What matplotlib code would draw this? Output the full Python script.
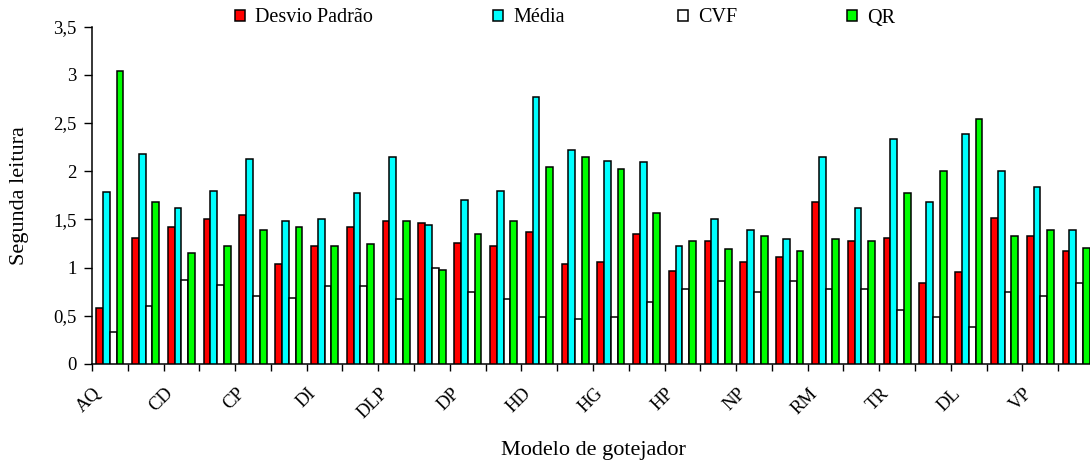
import matplotlib
matplotlib.use("Agg")
import matplotlib.pyplot as plt
import numpy as np
from matplotlib.transforms import ScaledTranslation

plt.rcParams['font.family'] = ['Liberation Serif', 'DejaVu Serif']

# 28 groups; only every other one carries a label in the reference
tick_labels = ["AQ", "CD", "CP", "DI", "DLP", "DP", "HD", "HG",
               "HP", "NP", "RM", "TR", "DL", "VP"]
n_groups = 28

desvio = [0.58, 1.31, 1.42, 1.50, 1.55, 1.04, 1.22, 1.42, 1.48, 1.46,
          1.26, 1.22, 1.37, 1.04, 1.06, 1.35, 0.97, 1.28, 1.06, 1.11,
          1.68, 1.28, 1.31, 0.84, 0.95, 1.51, 1.33, 1.17]
media = [1.78, 2.18, 1.62, 1.80, 2.13, 1.48, 1.50, 1.77, 2.15, 1.44,
         1.70, 1.80, 2.77, 2.22, 2.11, 2.10, 1.22, 1.50, 1.39, 1.30,
         2.15, 1.62, 2.33, 1.68, 2.39, 2.00, 1.84, 1.39]
cvf = [0.33, 0.60, 0.87, 0.82, 0.71, 0.69, 0.81, 0.81, 0.67, 1.00,
       0.75, 0.67, 0.49, 0.47, 0.49, 0.64, 0.78, 0.86, 0.75, 0.86,
       0.78, 0.78, 0.56, 0.49, 0.38, 0.75, 0.71, 0.84]
qr = [3.04, 1.68, 1.15, 1.22, 1.39, 1.42, 1.22, 1.24, 1.48, 0.98,
      1.35, 1.48, 2.04, 2.15, 2.02, 1.57, 1.28, 1.19, 1.33, 1.17,
      1.30, 1.28, 1.77, 2.00, 2.54, 1.33, 1.39, 1.20]

series_names = ["Desvio Padrão", "Média", "CVF", "QR"]
series_colors = ["#FF0000", "#00FFFF", "#FFFFFF", "#00FF00"]
series_values = [desvio, media, cvf, qr]

W, H = 1090, 463
fig = plt.figure(figsize=(W / 100, H / 100), dpi=100)
ax_left, ax_right, ax_top, ax_bottom = 92, 1094, 26.7, 364
ax = fig.add_axes([ax_left / W, 1 - ax_bottom / H,
                   (ax_right - ax_left) / W, (ax_bottom - ax_top) / H])

x = np.arange(n_groups)
bw = 0.19
handles = []
for i, (vals, col, name) in enumerate(zip(series_values, series_colors, series_names)):
    b = ax.bar(x + (i - 1.5) * bw, vals, width=bw, color=col,
               edgecolor="black", linewidth=1.1, label=name, zorder=3)
    handles.append(b)

ax.set_xlim(-0.5, n_groups - 0.5)
ax.set_ylim(0, 3.5)
yt = np.arange(0, 3.51, 0.5)
ax.set_yticks(yt)
ax.set_yticklabels([("%g" % v).replace(".", ",") for v in yt], fontsize=13.5)
ax.tick_params(axis="y", direction="out", length=6, width=1, pad=5)

ax.set_xticks(np.arange(0, n_groups, 2))
ax.set_xticklabels(tick_labels, fontsize=13.5)
ax.set_xticks(np.arange(-0.5, n_groups, 1), minor=True)
ax.tick_params(axis="x", which="major", length=0, pad=15)
ax.tick_params(axis="x", which="minor", direction="out", length=5, width=1)
off = ScaledTranslation(-17 / 100, 0, fig.dpi_scale_trans)
for lbl in ax.get_xticklabels():
    lbl.set_rotation(45)
    lbl.set_ha("right")
    lbl.set_va("top")
    lbl.set_rotation_mode("anchor")
    lbl.set_transform(lbl.get_transform() + off)

for s in ["top", "right"]:
    ax.spines[s].set_visible(False)
for s in ["left", "bottom"]:
    ax.spines[s].set_linewidth(1.1)

ax.set_xlabel("Modelo de gotejador", fontsize=16)
ax.xaxis.set_label_coords(0.5, -0.255)
ax.xaxis.label.set_va("center")
ax.set_ylabel("Segunda leitura", fontsize=16)
ax.yaxis.set_label_coords(-0.072, 0.5)
ax.yaxis.label.set_va("center")

# legend entries placed individually as in the reference
marker_x = [235, 493, 678, 847]
for h, name, mx in zip(handles, series_names, marker_x):
    fig.legend(handles=[h], labels=[name], loc="center left",
               bbox_to_anchor=(mx / W, 1 - 18 / H), frameon=False,
               fontsize=14.5, handlelength=0.5, handleheight=0.5,
               handletextpad=0.5, borderpad=0, borderaxespad=0)

fig.savefig("out.png", dpi=100)
